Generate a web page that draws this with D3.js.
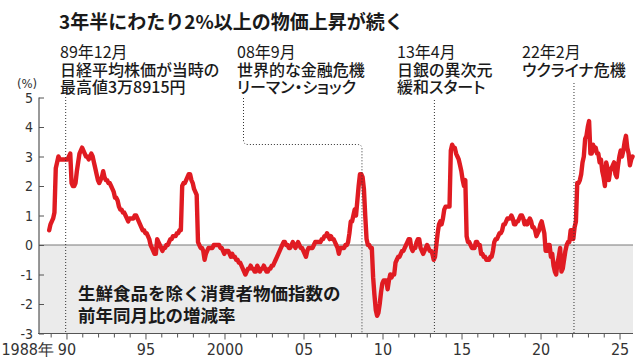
<!DOCTYPE html>
<html>
<head>
<meta charset="utf-8">
<script src="https://cdn.jsdelivr.net/npm/d3@7"></script>
<style>
  html, body { margin: 0; padding: 0; background: #fff; }
  svg { display: block; }
  .jp { font-family: "Noto Sans CJK JP", "Noto Sans", sans-serif; fill: #1a1a1a; }
  .pt { font-feature-settings: "palt" 1; }
  .num { font-family: "Liberation Sans Narrow", "DejaVu Sans Condensed", "Liberation Sans", sans-serif; fill: #333; }
</style>
</head>
<body>
<svg id="chart" width="640" height="358"></svg>
<script>
// ---- data ----
const titleText = "3年半にわたり2%以上の物価上昇が続く";
const seriesLabel = ["生鮮食品を除く消費者物価指数の", "前年同月比の増減率"];
const startYear = 1988, startMonth = 11; // first monthly value: 1988-11
// 生鮮食品を除く消費者物価指数 前年同月比 (%), monthly
const cpiValues = [
  0.5, 0.7,                                                         // 1988 Nov-Dec
  0.8, 0.9, 1.1, 2.6, 2.8, 3.0, 2.9, 2.9, 2.9, 2.9, 2.9, 2.9,       // 1989
  2.9, 3.0, 3.1, 2.1, 2.0, 2.0, 2.1, 2.5, 2.8, 3.1, 3.2, 3.3,       // 1990
  3.2, 3.1, 3.0, 3.0, 2.9, 3.0, 3.1, 3.0, 2.8, 2.6, 2.4, 2.2,       // 1991
  2.1, 2.2, 2.3, 2.5, 2.3, 2.2, 2.2, 2.1, 2.1, 2.0, 1.9, 1.8,       // 1992
  1.6, 1.6, 1.5, 1.3, 1.2, 1.2, 1.1, 1.1, 1.0, 0.9, 0.8, 0.9,       // 1993
  0.9, 0.9, 0.9, 1.0, 1.0, 0.9, 0.8, 0.7, 0.6, 0.5, 0.5, 0.4,       // 1994
  0.4, 0.3, 0.2, 0.0, -0.1, -0.2, -0.3, -0.3, 0.2, 0.1, 0.0, -0.1,  // 1995
  -0.2, -0.1, -0.1, 0.0, 0.0, 0.1, 0.2, 0.2, 0.3, 0.3, 0.3, 0.4,    // 1996
  0.4, 0.5, 0.5, 2.0, 2.1, 2.1, 2.2, 2.3, 2.4, 2.4, 2.2, 2.1,       // 1997
  1.9, 1.8, 1.7, 0.1, 0.0, -0.1, -0.1, -0.2, -0.5, -0.3, -0.2, -0.1, // 1998
  -0.1, -0.1, -0.1, 0.0, 0.0, 0.0, 0.0, 0.0, -0.1, -0.1, -0.2, -0.3, // 1999
  -0.2, -0.2, -0.2, -0.3, -0.4, -0.3, -0.4, -0.4, -0.5, -0.5, -0.6, -0.6, // 2000
  -0.7, -0.8, -0.9, -1.0, -0.9, -0.8, -0.8, -0.7, -0.8, -0.8, -0.9, -0.9, // 2001
  -0.7, -0.8, -0.9, -0.8, -0.8, -0.7, -0.8, -0.9, -0.9, -0.8, -0.8, -0.7, // 2002
  -0.7, -0.6, -0.5, -0.4, -0.3, -0.2, -0.1, 0.0, 0.1, 0.1, 0.0, 0.0, // 2003
  -0.1, -0.1, 0.0, 0.1, 0.0, -0.1, 0.0, 0.1, 0.0, -0.1, -0.1, -0.2, // 2004
  -0.3, -0.4, -0.2, -0.1, -0.1, -0.1, -0.1, 0.0, 0.1, 0.1, 0.1, 0.1, // 2005
  0.1, 0.2, 0.2, 0.3, 0.3, 0.4, 0.3, 0.2, 0.3, 0.2, 0.2, 0.1,       // 2006
  0.0, -0.1, -0.3, -0.1, -0.1, -0.1, -0.1, 0.0, 0.0, 0.1, 0.4, 0.8, // 2007
  0.8, 1.0, 1.2, 1.0, 1.5, 2.0, 2.4, 2.4, 2.3, 1.9, 1.0, 0.2,       // 2008
  0.0, 0.0, -0.1, -0.1, -1.1, -1.7, -2.2, -2.4, -2.3, -2.0, -1.6, -1.3, // 2009
  -1.2, -1.2, -1.2, -1.5, -1.2, -1.0, -1.1, -1.0, -1.0, -0.6, -0.5, -0.4, // 2010
  -0.4, -0.3, -0.2, -0.2, -0.1, 0.0, 0.1, 0.2, 0.2, -0.1, -0.2, -0.1, // 2011
  -0.1, 0.1, 0.2, 0.2, -0.1, -0.2, -0.3, -0.2, -0.1, 0.0, -0.1, -0.2, // 2012
  -0.2, -0.3, -0.5, -0.4, 0.0, 0.4, 0.7, 0.8, 0.7, 0.9, 1.2, 1.3,   // 2013
  1.3, 1.3, 1.3, 3.2, 3.4, 3.3, 3.3, 3.1, 3.0, 2.9, 2.7, 2.5,       // 2014
  2.2, 2.0, 2.2, 0.3, 0.1, 0.1, 0.0, -0.1, -0.1, -0.1, 0.1, 0.1,    // 2015
  0.0, 0.0, -0.3, -0.3, -0.4, -0.4, -0.5, -0.5, -0.5, -0.4, -0.4, -0.2, // 2016
  0.1, 0.2, 0.2, 0.3, 0.4, 0.4, 0.5, 0.7, 0.7, 0.8, 0.9, 0.9,       // 2017
  0.9, 1.0, 0.9, 0.7, 0.7, 0.8, 0.8, 0.9, 1.0, 1.0, 0.9, 0.7,       // 2018
  0.8, 0.7, 0.8, 0.9, 0.8, 0.6, 0.6, 0.5, 0.3, 0.4, 0.5, 0.7,       // 2019
  0.8, 0.6, 0.4, -0.2, -0.2, 0.0, 0.0, -0.4, -0.3, -0.7, -0.9, -1.0, // 2020
  -0.6, -0.4, -0.1, -0.9, -0.8, -0.5, -0.2, 0.0, 0.1, 0.1, 0.5, 0.5, // 2021
  0.2, 0.6, 0.8, 2.1, 2.1, 2.2, 2.4, 2.8, 3.0, 3.6, 3.7, 4.0,       // 2022
  4.2, 3.1, 3.1, 3.4, 3.2, 3.3, 3.1, 3.1, 2.8, 2.9, 2.5, 2.3,       // 2023
  2.0, 2.8, 2.6, 2.2, 2.5, 2.6, 2.7, 2.8, 2.4, 2.3, 2.7, 3.0,       // 2024
  3.2, 3.0, 3.2, 3.5, 3.7, 3.3, 3.1, 2.7, 2.9, 3.0                  // 2025 Jan-Oct
];
const yTickValues = [-3, -2, -1, 0, 1, 2, 3, 4, 5];
const xMinorYears = d3.range(1989, 2026);
const xLabelYears = [1990, 1995, 2000, 2005, 2010, 2015, 2020, 2025];
const xLabelTexts = ["90", "95", "2000", "05", "10", "15", "20", "25"];
const firstYearLabel = "1988年";
const eventYears = [1989, 2008, 2013, 2022];
const eventMonths = [12, 9, 4, 2];
const eventTexts = [
  ["89年12月", "日経平均株価が当時の", "最高値3万8915円"],
  ["08年9月", "世界的な金融危機", "リーマン・ショック"],
  ["13年4月", "日銀の異次元", "緩和スタート"],
  ["22年2月", "ウクライナ危機"]
];

// ---- layout ----
const svg = d3.select("#chart");
const plotLeft = 39, plotRight = 633, plotTop = 97.5, plotBottom = 333.5;
const x = d3.scaleLinear().domain([1988.23, 2025.82]).range([plotLeft, plotRight]);
const y = d3.scaleLinear().domain([-3, 5]).range([plotBottom, plotTop]);
const monthPos = (yr, m) => yr + (m - 0.5) / 12;

const points = cpiValues.map((v, i) => {
  const mIdx = startMonth - 1 + i;
  return { t: monthPos(startYear + Math.floor(mIdx / 12), (mIdx % 12) + 1), v };
});

// title
svg.append("text").attr("class", "jp").attr("x", 59).attr("y", 29)
  .attr("font-size", 19).attr("font-weight", 700).text(titleText);

// negative area shading
svg.append("rect").attr("x", plotLeft).attr("y", y(0))
  .attr("width", plotRight - plotLeft).attr("height", y(-3) - y(0))
  .attr("fill", "#ebebeb");

// zero line
svg.append("line").attr("x1", plotLeft).attr("x2", plotRight)
  .attr("y1", y(0)).attr("y2", y(0)).attr("stroke", "#7a7a7a").attr("stroke-width", 1.2);

// y axis
const yAxis = d3.axisRight(y).tickValues(yTickValues).tickSize(5).tickFormat("");
const yg = svg.append("g").attr("transform", `translate(${plotLeft},0)`).call(yAxis);
yg.select(".domain").remove();
yg.selectAll(".tick line").attr("stroke", "#555");
svg.append("line").attr("x1", plotLeft).attr("x2", plotLeft).attr("y1", plotTop).attr("y2", plotBottom)
  .attr("stroke", "#555").attr("stroke-width", 1.2);
svg.append("g").selectAll("text").data(yTickValues).join("text")
  .attr("class", "num").attr("x", 33).attr("y", d => y(d)).attr("dy", "0.36em")
  .attr("text-anchor", "end").attr("font-size", 14).text(d => d);
svg.append("text").attr("class", "num").attr("x", 27).attr("y", 88)
  .attr("text-anchor", "middle").attr("font-size", 13).text("(%)");

// x axis
svg.append("line").attr("x1", plotLeft - 1).attr("x2", plotRight).attr("y1", plotBottom).attr("y2", plotBottom)
  .attr("stroke", "#555").attr("stroke-width", 1.2);
svg.append("g").selectAll("line").data(xMinorYears).join("line")
  .attr("x1", d => x(d)).attr("x2", d => x(d))
  .attr("y1", plotBottom).attr("y2", d => plotBottom + (d % 5 === 0 ? 6 : 4))
  .attr("stroke", "#555").attr("stroke-width", 1);
svg.append("g").selectAll("text").data(xLabelYears).join("text")
  .attr("class", "num").attr("x", d => x(d)).attr("y", 355)
  .attr("text-anchor", "middle").attr("font-size", 16)
  .text((d, i) => xLabelTexts[i]);
svg.append("text").attr("class", "num").attr("x", 54).attr("y", 355)
  .attr("text-anchor", "end").attr("font-size", 16).text(firstYearLabel);

// series label
seriesLabel.forEach((t, i) => {
  svg.append("text").attr("class", "jp").attr("x", 78).attr("y", 300 + i * 21.5)
    .attr("font-size", 17.5).attr("font-weight", 700).text(t);
});

// line
const line = d3.line().x(d => x(d.t)).y(d => y(d.v));
svg.append("path").datum(points).attr("d", line)
  .attr("fill", "none").attr("stroke", "#e01b22").attr("stroke-width", 4.4)
  .attr("stroke-linejoin", "round").attr("stroke-linecap", "round");

// event annotations
const textX = [60, 237, 397, 522];
const lineTops = [97, 98, 100, 83];
eventYears.forEach((yr, i) => {
  const ex = x(monthPos(yr, eventMonths[i]) - 0.04);
  let d;
  if (i === 1) {
    const lx = 243.5, hy = 144.5, r = 4.5;
    d = `M${lx},${lineTops[i]} V${hy - r} Q${lx},${hy} ${lx + r},${hy} H${ex - r} Q${ex},${hy} ${ex},${hy + r} V${plotBottom}`;
  } else {
    d = `M${ex},${lineTops[i]} V${plotBottom}`;
  }
  svg.append("path").attr("d", d).attr("fill", "none")
    .attr("stroke", "#333").attr("stroke-width", 1).attr("stroke-dasharray", "1,2");
  eventTexts[i].forEach((t, j) => {
    svg.append("text").attr("class", j === 0 ? "jp" : "jp pt").attr("x", textX[i]).attr("y", 58 + j * 17.5)
      .attr("font-size", 16).attr("font-weight", j === 0 ? 400 : 500).text(t);
  });
});
</script>
</body>
</html>
